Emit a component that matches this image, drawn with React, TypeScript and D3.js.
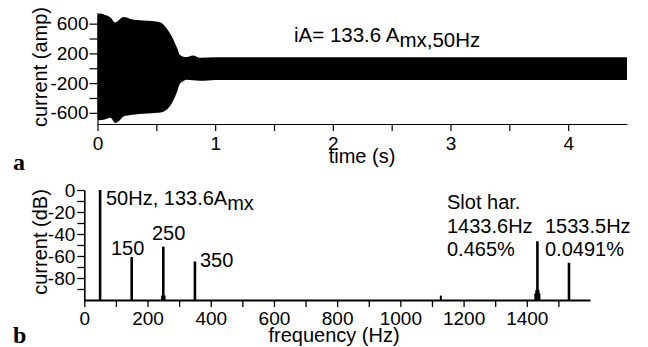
import React, { useEffect, useRef } from 'react';
import * as d3 from 'd3';

// panel a: envelope of the phase current iA (time in s, current in amp)
const envTime = [0, 0.02, 0.06, 0.11, 0.15, 0.19, 0.22, 0.3, 0.42, 0.51, 0.56, 0.59, 0.62, 0.64, 0.66, 0.68, 0.7, 0.73, 0.76, 0.81, 0.87, 1.0, 4.5];
const envUpper = [700, 735, 720, 684, 617, 660, 690, 655, 640, 627, 590, 530, 460, 400, 330, 260, 180, 155, 150, 170, 140, 147, 147];
const envLower = [-690, -700, -690, -667, -735, -700, -650, -625, -610, -600, -585, -556, -500, -445, -380, -300, -210, -170, -155, -160, -168, -157, -157];

const timeTicks = [0, 1, 2, 3, 4];
const timeMinor = [0.5, 1.5, 2.5, 3.5];
const ampTicks = [600, 200, -200, -600];
const ampMinor = [400, 0, -400];

// panel b: spectrum (Hz, dB)
const harmFreq = [50, 150, 250, 350, 1433.6, 1533.5];
const harmLevel = [0, -61, -51.5, -65, -46.6, -66.2];
const sideFreq = [246, 254, 1128, 1427, 1430, 1437, 1440];
const sideLevel = [-96, -96, -96, -94, -91, -91, -94];

const freqTicks = [0, 200, 400, 600, 800, 1000, 1200, 1400];
const freqMinor = [100, 300, 500, 700, 900, 1100, 1300, 1500];
const dbTicks = [0, -20, -40, -60, -80];
const dbMinor = [-10, -30, -50, -70, -90];

const W = 648;
const H = 347;
const font = 'Liberation Sans, Arial, Helvetica, sans-serif';
const serif = 'Liberation Serif, Times New Roman, serif';

const App = () => {
  const ref = useRef<SVGSVGElement>(null);

  useEffect(() => {
    const svg = d3.select(ref.current);
    svg.selectAll('*').remove();

    // ---------- panel a ----------
    const xa = d3.scaleLinear().domain([0, 4.5]).range([97.5, 627]);
    const ya = d3.scaleLinear().domain([-750, 750]).range([124, 12.5]);

    const env = envTime.map((t, i) => ({ t, hi: envUpper[i], lo: envLower[i] }));
    const area = d3.area<any>()
      .x(d => xa(d.t))
      .y0(d => ya(d.lo))
      .y1(d => ya(d.hi))
      .curve(d3.curveMonotoneX);
    svg.append('path').datum(env).attr('d', area).attr('fill', '#000');

    const styleAxis = (g: any, sw: number) => {
      g.attr('font-family', font).attr('font-size', 19);
      g.selectAll('path').attr('stroke', '#000').attr('stroke-width', sw);
      g.selectAll('line').attr('stroke', '#000').attr('stroke-width', sw);
      g.selectAll('text').attr('fill', '#000');
    };

    const axA = svg.append('g')
      .attr('transform', `translate(0,124)`)
      .call(d3.axisBottom(xa)
        .tickValues([...timeTicks, ...timeMinor])
        .tickFormat((d: any) => (timeTicks.includes(d) ? String(d) : ''))
        .tickSize(7).tickPadding(6).tickSizeOuter(0));
    styleAxis(axA, 1.2);

    const ayA = svg.append('g')
      .attr('transform', `translate(97.5,0)`)
      .call(d3.axisLeft(ya)
        .tickValues([...ampTicks, ...ampMinor])
        .tickFormat((d: any) => (ampTicks.includes(d) ? String(d) : ''))
        .tickSize(8).tickPadding(1).tickSizeOuter(0));
    styleAxis(ayA, 1.2);

    svg.append('text').attr('x', 362).attr('y', 163).attr('text-anchor', 'middle')
      .attr('font-family', font).attr('font-size', 20).text('time (s)');
    svg.append('text').attr('transform', 'translate(47,67) rotate(-90)').attr('text-anchor', 'middle')
      .attr('font-family', font).attr('font-size', 20).text('current (amp)');

    const tA = svg.append('text').attr('x', 294).attr('y', 42)
      .attr('font-family', font).attr('font-size', 20.5);
    tA.append('tspan').text('iA= 133.6 A');
    tA.append('tspan').attr('dy', 5).text('mx,50Hz');

    svg.append('text').attr('x', 13).attr('y', 170).attr('font-family', serif)
      .attr('font-weight', 'bold').attr('font-size', 24).text('a');

    // ---------- panel b ----------
    const xb = d3.scaleLinear().domain([0, 1600]).range([84.3, 590]);
    const yb = d3.scaleLinear().domain([-100, 0]).range([300, 190]);

    svg.append('g').selectAll('line')
      .data(sideFreq.map((f, i) => ({ f, v: sideLevel[i] })))
      .enter().append('line')
      .attr('x1', d => xb(d.f)).attr('x2', d => xb(d.f))
      .attr('y1', yb(-100)).attr('y2', d => yb(d.v))
      .attr('stroke', '#000').attr('stroke-width', 2);

    svg.append('g').selectAll('line')
      .data(harmFreq.map((f, i) => ({ f, v: harmLevel[i] })))
      .enter().append('line')
      .attr('x1', d => xb(d.f)).attr('x2', d => xb(d.f))
      .attr('y1', yb(-100)).attr('y2', d => yb(d.v))
      .attr('stroke', '#000').attr('stroke-width', 2.6);

    const axB = svg.append('g')
      .attr('transform', `translate(0,300)`)
      .call(d3.axisBottom(xb)
        .tickValues([...freqTicks, ...freqMinor])
        .tickFormat((d: any) => (freqTicks.includes(d) ? String(d) : ''))
        .tickSize(7).tickPadding(5).tickSizeOuter(0));
    styleAxis(axB, 2);
    axB.selectAll('line').attr('stroke-width', 1.3);

    const ayB = svg.append('g')
      .attr('transform', `translate(84.3,0)`)
      .call(d3.axisLeft(yb)
        .tickValues([...dbTicks, ...dbMinor])
        .tickFormat((d: any) => (dbTicks.includes(d) ? String(d) : ''))
        .tickSize(7).tickPadding(2).tickSizeOuter(0));
    styleAxis(ayB, 1.6);
    ayB.selectAll('line').attr('stroke-width', 1.3);

    svg.append('text').attr('x', 334).attr('y', 342).attr('text-anchor', 'middle')
      .attr('font-family', font).attr('font-size', 20).text('frequency (Hz)');
    svg.append('text').attr('transform', 'translate(47,242) rotate(-90)').attr('text-anchor', 'middle')
      .attr('font-family', font).attr('font-size', 20).text('current (dB)');

    const label = (x: number, y: number, s: string) =>
      svg.append('text').attr('x', x).attr('y', y).attr('font-family', font).attr('font-size', 20).text(s);

    const t50 = svg.append('text').attr('x', 106).attr('y', 205)
      .attr('font-family', font).attr('font-size', 20);
    t50.append('tspan').text('50Hz, 133.6A');
    t50.append('tspan').attr('dy', 5).text('mx');

    label(111, 255, '150');
    label(152, 240, '250');
    label(200, 267, '350');
    label(447, 209, 'Slot har.');
    label(447, 233, '1433.6Hz');
    label(545, 233, '1533.5Hz');
    label(447, 256, '0.465%');
    label(545, 256, '0.0491%');

    svg.append('text').attr('x', 13).attr('y', 343).attr('font-family', serif)
      .attr('font-weight', 'bold').attr('font-size', 24).text('b');

    return () => {
      d3.select(ref.current).selectAll('*').remove();
    };
  }, []);

  return (
    <svg ref={ref} width={W} height={H} style={{ position: 'absolute', left: 0, top: 0, background: '#fff' }} />
  );
};

export default App;
